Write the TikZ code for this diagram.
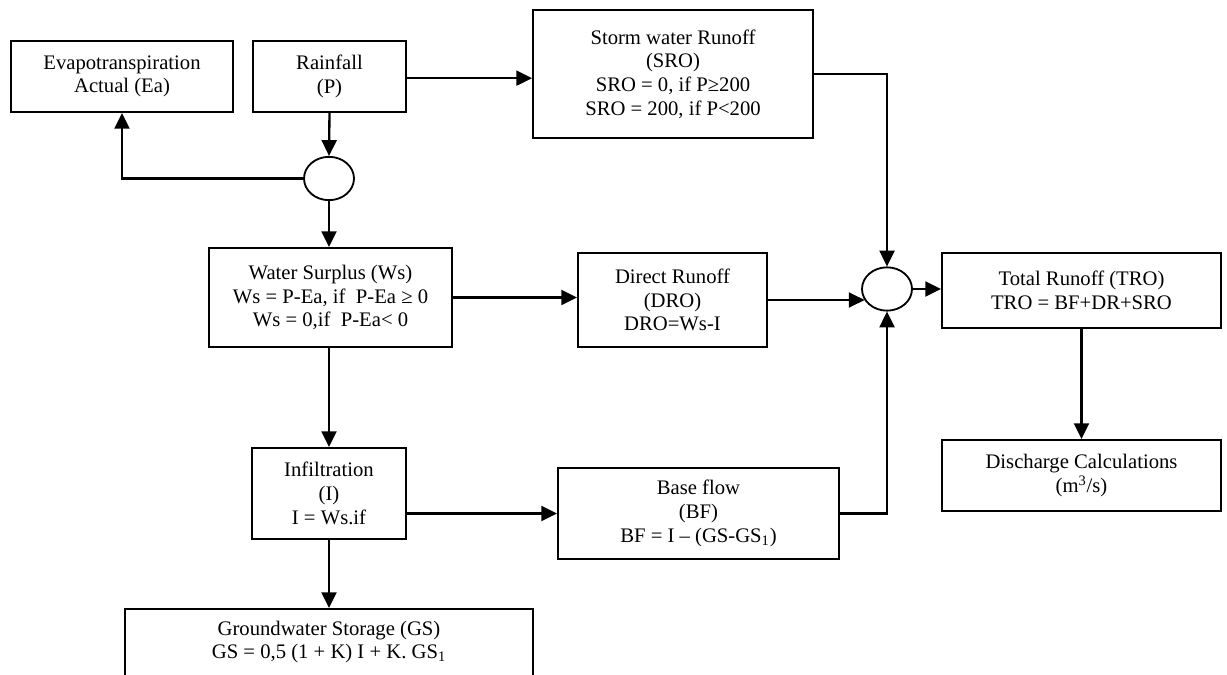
\documentclass[tikz,border=0pt]{standalone}
\usepackage{fontspec}
\setmainfont{Liberation Serif}
\usetikzlibrary{shapes.geometric,arrows.meta}

\begin{document}
\begin{tikzpicture}[x=0.6pt, y=-0.6pt,
  every node/.style={font=\fontsize{12.4pt}{14.2pt}\selectfont},
  box/.style={draw, line width=1.1pt, inner sep=0pt, align=center},
  junction/.style={draw, ellipse, line width=1.1pt, inner sep=0pt,
                   minimum width=30pt, minimum height=26pt},
  arr/.style={line width=1.4pt, -{Triangle[length=9.5pt,width=9pt]}},
  link/.style={line width=1.4pt}]
\useasboundingbox (0,0) rectangle (1227,675);
\clip (0,0) rectangle (1227,675);

% boxes (centres in pixel units, sizes in pt)
\node[box, minimum width=133.2pt, minimum height=42.6pt] (ea)  at (122,76.5)
  {Evapotranspiration\\Actual (Ea)};
\node[box, minimum width=91.8pt, minimum height=42.6pt] (rain) at (329.5,76.5)
  {Rainfall\\(P)};
\node[box, minimum width=168pt, minimum height=76.8pt] (sro) at (673,74)
  {Storm water Runoff\\(SRO)\\SRO = 0, if P≥200\\SRO = 200, if P<200};
\node[junction] (c1) at (329,178.5) {};
\node[box, minimum width=145.8pt, minimum height=59.4pt] (ws) at (330.5,297.5)
  {Water Surplus (Ws)\\Ws = P-Ea, if\ \ P-Ea ≥ 0\\Ws = 0,if\ \ P-Ea< 0};
\node[box, minimum width=113.4pt, minimum height=56.4pt] (dro) at (672.5,300)
  {Direct Runoff\\(DRO)\\DRO=Ws-I};
\node[junction] (c2) at (887,289) {};
\node[box, minimum width=167.4pt, minimum height=45pt] (tro) at (1081.5,290.5)
  {Total Runoff (TRO)\\TRO = BF+DR+SRO};
\node[box, minimum width=167.4pt, minimum height=42.6pt] (dis) at (1081.5,475.5)
  {Discharge Calculations\\(m\textsuperscript{3}/s)};
\node[box, minimum width=92.4pt, minimum height=54.6pt] (inf) at (329,493.5)
  {Infiltration\\(I)\\I = Ws.if};
\node[box, minimum width=168.6pt, minimum height=54.6pt] (bf) at (698.5,513.5)
  {Base flow\\(BF)\\BF = I – (GS-GS\textsubscript{1})};
\node[box, minimum width=244.8pt, minimum height=60pt] (gs) at (329,659) {};
\node[align=center] (gstext) at (329,642)
  {Groundwater Storage (GS)\\GS = 0,5 (1 + K) I + K. GS\textsubscript{1}};

% connectors
\draw[arr] (rain.south) -- (c1.north);
\draw[arr] (c1.west) -| (ea.south);
\draw[arr] (c1.south) -- (c1.south |- ws.north);
\draw[arr] ([yshift=-1pt]rain.east) -- ([yshift=-1pt]rain.east -| sro.west);
\draw[arr] (sro.east) -| (c2.north);
\draw[arr] (ws.east) -- (ws.east -| dro.west);
\draw[arr] (dro.east) -- (dro.east -| c2.207);
\draw[arr] (c2.east) -- (c2.east -| tro.west);
\draw[arr] (tro.south) -- (tro.south |- dis.north);
\draw[arr] (ws.south -| inf.north) -- (inf.north);
\draw[arr] (inf.east |- bf.west) -- (bf.west);
\draw[arr] (bf.east) -| (c2.south);
\draw[arr] (inf.south) -- (inf.south |- gs.north);
\end{tikzpicture}
\end{document}
